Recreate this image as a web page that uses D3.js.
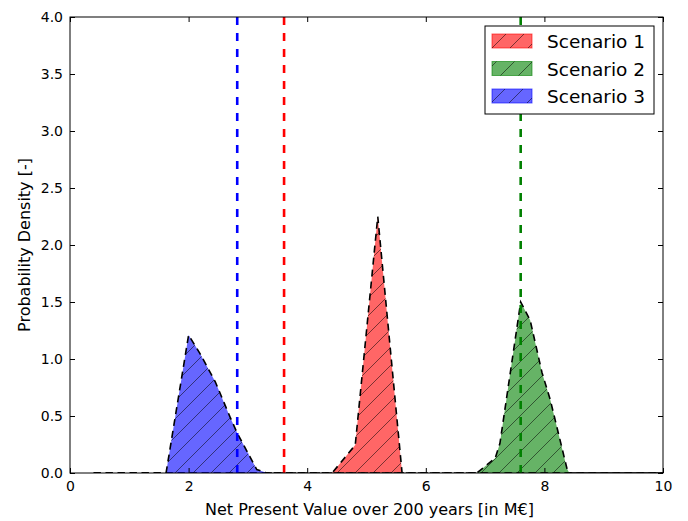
<!DOCTYPE html>
<html>
<head>
<meta charset="utf-8">
<script src="https://cdn.jsdelivr.net/npm/d3@7"></script>
<style>
  body { margin: 0; background: #fff; }
  svg { font-family: "DejaVu Sans", sans-serif; }
</style>
</head>
<body>
<div id="chart"></div>
<script>
let width = 688;
let height = 521;
let margin = {left: 70, right: 25, top: 17, bottom: 48};

// density curves: [x, density]
let scenario1 = [[0.4,0],[4.42,0],[4.81,0.245],[5.19,2.25],[5.6,0],[10,0]];
let scenario2 = [[0.4,0],[6.86,0],[7.17,0.13],[7.25,0.26],[7.6,1.5],[7.76,1.34],[7.96,0.88],[8.1,0.64],[8.38,0.04],[8.42,0],[10,0]];
let scenario3 = [[0.4,0],[1.62,0],[2.0,1.21],[2.19,1.05],[2.45,0.8],[2.7,0.49],[2.82,0.35],[3.15,0.03],[3.3,0.005],[3.4,0],[10,0]];
let means = [3.61, 7.6, 2.82];
let names = ['Scenario 1', 'Scenario 2', 'Scenario 3'];
let colors = ['#ff0000', '#008000', '#0000ff'];
let xTicks = [0, 2, 4, 6, 8, 10];
let yTicks = [0, 0.5, 1, 1.5, 2, 2.5, 3, 3.5, 4];

let series = [scenario1, scenario2, scenario3];

let x = d3.scaleLinear().domain([0, 10]).range([margin.left, width - margin.right]);
let y = d3.scaleLinear().domain([0, 4]).range([height - margin.bottom, margin.top]);

let svg = d3.select('#chart').append('svg')
            .attr('width', width)
            .attr('height', height);

// hatch pattern
let hs = 18;
let pat = svg.append('defs').append('pattern')
            .attr('id', 'hatch')
            .attr('patternUnits', 'userSpaceOnUse')
            .attr('width', hs).attr('height', hs);
pat.append('path')
    .attr('d', `M-3,3 L3,-3 M0,${hs} L${hs},0 M${hs-3},${hs+3} L${hs+3},${hs-3}`)
    .attr('stroke', '#000').attr('stroke-opacity', 0.65).attr('stroke-width', 0.8);

let area = d3.area().x(d => x(d[0])).y0(y(0)).y1(d => y(d[1]));
let outline = d3.line().x(d => x(d[0])).y(d => y(d[1]));

svg.append('clipPath').attr('id', 'clip').append('rect')
    .attr('x', x(0)).attr('y', y(4))
    .attr('width', x(10) - x(0)).attr('height', y(0) - y(4));

let plot = svg.append('g').attr('clip-path', 'url(#clip)');

series.forEach((s, i) => {
    plot.append('path').attr('d', area(s))
        .attr('fill', colors[i]).attr('fill-opacity', 0.6);
    plot.append('path').attr('d', area(s))
        .attr('fill', 'url(#hatch)');
    plot.append('path').attr('d', outline(s))
        .attr('fill', 'none').attr('stroke', '#000')
        .attr('stroke-width', 1.6).attr('stroke-dasharray', '7,5');
});

means.forEach((m, i) => {
    plot.append('line')
        .attr('x1', x(m)).attr('x2', x(m))
        .attr('y1', y(4)).attr('y2', y(0))
        .attr('stroke', colors[i]).attr('stroke-width', 2.6)
        .attr('stroke-dasharray', '8,8');
});

// axes, ticks pointing in on all four sides
let gx = svg.append('g').attr('transform', `translate(0,${y(0)})`)
    .call(d3.axisBottom(x).tickValues(xTicks).tickFormat(d3.format('d'))
        .tickSizeInner(-5).tickSizeOuter(0).tickPadding(8));
let gxt = svg.append('g').attr('transform', `translate(0,${y(4)})`)
    .call(d3.axisTop(x).tickValues(xTicks).tickFormat('')
        .tickSizeInner(-5).tickSizeOuter(0));
let gy = svg.append('g').attr('transform', `translate(${x(0)},0)`)
    .call(d3.axisLeft(y).tickValues(yTicks).tickFormat(d3.format('.1f'))
        .tickSizeInner(-5).tickSizeOuter(0).tickPadding(7));
let gyr = svg.append('g').attr('transform', `translate(${x(10)},0)`)
    .call(d3.axisRight(y).tickValues(yTicks).tickFormat('')
        .tickSizeInner(-5).tickSizeOuter(0));

[gx, gxt, gy, gyr].forEach(g => {
    g.select('.domain').remove();
    g.selectAll('.tick line').attr('stroke', '#000');
    g.selectAll('text').attr('font-size', 14).attr('fill', '#000')
        .attr('font-family', '"DejaVu Sans", sans-serif');
});

svg.append('rect')
    .attr('x', x(0)).attr('y', y(4))
    .attr('width', x(10) - x(0)).attr('height', y(0) - y(4))
    .attr('fill', 'none').attr('stroke', '#000').attr('stroke-width', 1);

svg.append('text')
    .attr('x', (x(0) + x(10)) / 2 + 3).attr('y', 515)
    .attr('text-anchor', 'middle').attr('font-size', 16)
    .text('Net Present Value over 200 years [in M€]');

svg.append('text')
    .attr('transform', `translate(30,${(y(0) + y(4)) / 2}) rotate(-90)`)
    .attr('text-anchor', 'middle').attr('font-size', 16)
    .text('Probability Density [-]');

// legend
let leg = svg.append('g');
leg.append('rect')
    .attr('x', 485).attr('y', 26).attr('width', 169).attr('height', 88)
    .attr('fill', '#fff').attr('stroke', '#000').attr('stroke-width', 1);
names.forEach((n, i) => {
    let ry = 34 + i * 27.5;
    leg.append('rect').attr('x', 492).attr('y', ry).attr('width', 40).attr('height', 14)
        .attr('fill', colors[i]).attr('fill-opacity', 0.6)
        .attr('stroke', colors[i]).attr('stroke-opacity', 0.6);
    leg.append('rect').attr('x', 492).attr('y', ry).attr('width', 40).attr('height', 14)
        .attr('fill', 'url(#hatch)');
    leg.append('text').attr('x', 547).attr('y', ry + 14)
        .attr('font-size', 18.5).text(n);
});
</script>
</body>
</html>
